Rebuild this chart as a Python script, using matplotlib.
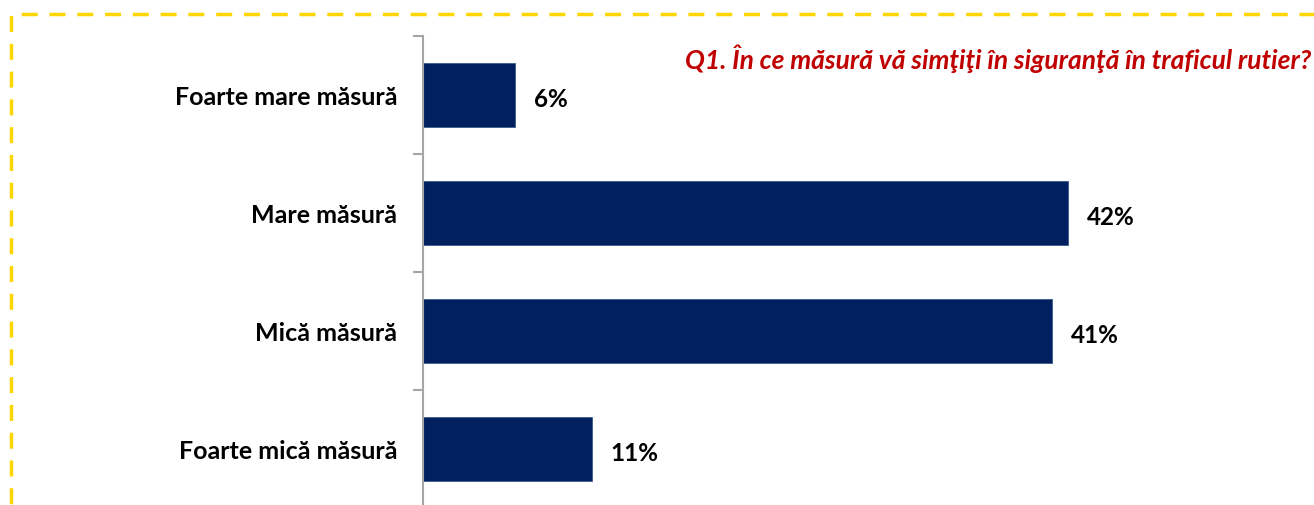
import matplotlib
matplotlib.use('Agg')
import matplotlib.pyplot as plt
from matplotlib.patches import Rectangle

plt.rcParams['font.family'] = ['Lato', 'DejaVu Sans']

# date
categorii = ['Foarte mare măsură', 'Mare măsură', 'Mică măsură', 'Foarte mică măsură']
procente = [6, 42, 41, 11]
titlu = 'Q1. În ce măsură vă simţiţi în siguranţă în traficul rutier?'

W, H = 1314, 506
fig = plt.figure(figsize=(W / 100, H / 100), dpi=100)

# axa: spine la x=423, de la y=37 la y=509
ax = fig.add_axes([423 / W, 1 - 509 / H, (W - 423) / W, 472 / H])
pozitii = list(range(len(categorii)))
ax.barh(pozitii, procente, height=0.54, color='#002060', edgecolor='#3A5A8C', linewidth=0.6)
ax.set_ylim(len(categorii) - 0.5, -0.5)
ax.set_xlim(0, (W - 423) / 15.35)

for s in ['top', 'right', 'bottom']:
    ax.spines[s].set_visible(False)
ax.spines['left'].set_color('#A6A6A6')
ax.spines['left'].set_linewidth(1.5)
ax.set_xticks([])

# tick-uri la granitele categoriilor, etichete la centru
ax.set_yticks([i - 0.5 for i in range(len(categorii) + 1)])
ax.set_yticklabels([])
ax.tick_params(axis='y', which='major', direction='out', length=7, width=1.5, color='#A6A6A6')
ax.set_yticks(pozitii, minor=True)
ax.set_yticklabels(categorii, minor=True, fontsize=18, fontweight='bold', color='black')
ax.tick_params(axis='y', which='minor', length=0, pad=18.5)

# etichete cu valori, putin sub centrul barei
for p, v in zip(pozitii, procente):
    ax.annotate(f'{v}%', (v, p), xytext=(19, -4), textcoords='offset pixels',
                va='center', ha='left', fontsize=17.5, fontweight='bold', color='black')

fig.text(1311 / W, 1 - 59 / H, titlu, ha='right', va='center', fontsize=19,
         fontweight='bold', fontstyle='italic', color='#C00000')

# chenar galben punctat
fig.add_artist(Rectangle((11.3 / W, -0.2), 1.2, 1.2 - 15.3 / H, transform=fig.transFigure,
                         fill=False, edgecolor='#FDD600', linewidth=2.5,
                         linestyle=(0, (4.6, 3.4)), joinstyle='round', clip_on=False))

fig.savefig('out.png', dpi=100)
